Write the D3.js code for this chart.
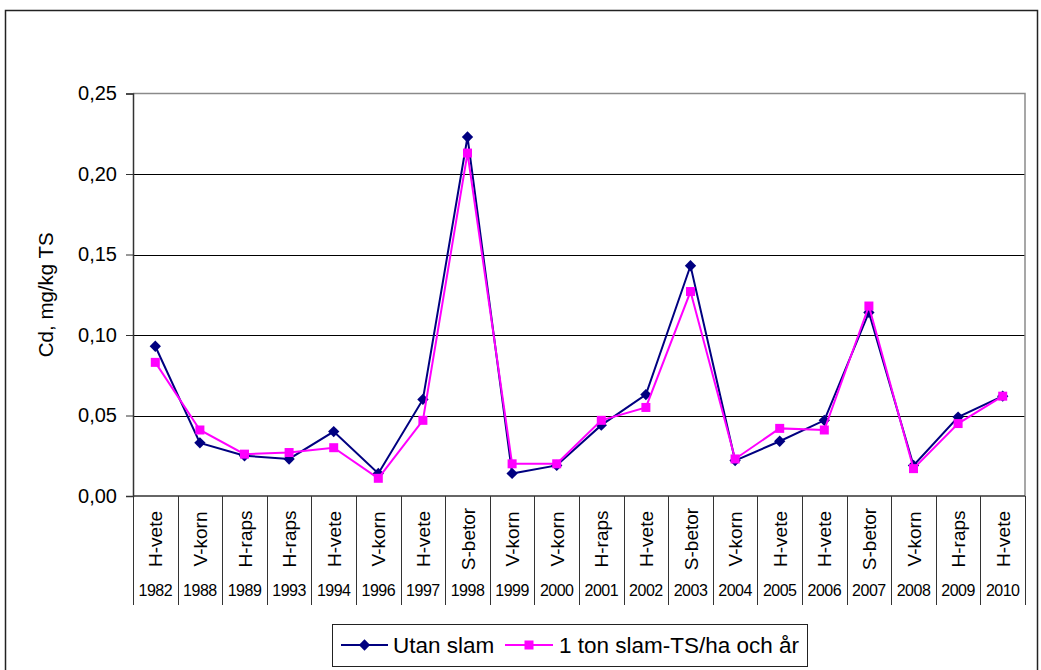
<!DOCTYPE html>
<html>
<head>
<meta charset="utf-8">
<script src="https://cdn.jsdelivr.net/npm/d3@7"></script>
<style>
  html, body { margin: 0; padding: 0; background: #fff; }
  svg { display: block; font-family: Arial, "Liberation Sans", sans-serif; }
</style>
</head>
<body>
<svg id="chart" width="1041" height="670"></svg>
<script>
// Cd-halt i skörden per år och gröda
const years = ["1982","1988","1989","1993","1994","1996","1997","1998","1999","2000",
               "2001","2002","2003","2004","2005","2006","2007","2008","2009","2010"];
const crops = ["H-vete","V-korn","H-raps","H-raps","H-vete","V-korn","H-vete","S-betor","V-korn","V-korn",
               "H-raps","H-vete","S-betor","V-korn","H-vete","H-vete","S-betor","V-korn","H-raps","H-vete"];
const utanSlam = [0.093,0.033,0.025,0.023,0.040,0.014,0.060,0.223,0.014,0.019,
                  0.044,0.063,0.143,0.022,0.034,0.047,0.114,0.019,0.049,0.062];
const medSlam  = [0.083,0.041,0.026,0.027,0.030,0.011,0.047,0.213,0.020,0.020,
                  0.047,0.055,0.127,0.023,0.042,0.041,0.118,0.017,0.045,0.062];
const yTicks = [0, 0.05, 0.10, 0.15, 0.20, 0.25];
const seriesNames = ["Utan slam", "1 ton slam-TS/ha och år"];

const svg = d3.select("#chart");
const fmt = v => d3.format(".2f")(v).replace(".", ",");

// outer chart frame
svg.append("rect")
  .attr("x", 5.5).attr("y", 10.5)
  .attr("width", 1032).attr("height", 680)
  .attr("fill", "none").attr("stroke", "#222").attr("stroke-width", 1.5);

const plotL = 133, plotR = 1025, plotT = 93.5, plotB = 496;
const x = d3.scaleBand().domain(years).range([plotL, plotR]);
const y = d3.scaleLinear().domain([0, 0.25]).range([plotB, plotT]);

// horizontal gridlines
svg.append("g")
  .selectAll("line")
  .data(yTicks.filter(t => t > 0 && t < 0.25))
  .join("line")
  .attr("x1", plotL).attr("x2", plotR)
  .attr("y1", d => Math.round(y(d)) + 0.5).attr("y2", d => Math.round(y(d)) + 0.5)
  .attr("stroke", "#000").attr("stroke-width", 1);

// plot area border (top/right)
svg.append("path")
  .attr("d", `M${plotL},${plotT}H${plotR}V${plotB}`)
  .attr("fill", "none").attr("stroke", "#8a8a8a").attr("stroke-width", 1.5);

// y axis
const yAxis = d3.axisLeft(y).tickValues(yTicks).tickFormat(fmt).tickSize(7).tickPadding(9);
const gy = svg.append("g").attr("transform", `translate(${plotL},0)`).call(yAxis);
gy.select(".domain").attr("stroke", "#333").attr("stroke-width", 1.5);
gy.selectAll(".tick line").attr("stroke", "#333");
gy.selectAll(".tick text").attr("font-size", 20).attr("fill", "#000")
  .attr("font-family", "Arial, 'Liberation Sans', sans-serif");

// y axis title
svg.append("text")
  .attr("transform", `translate(53,${(plotT + plotB) / 2}) rotate(-90)`)
  .attr("text-anchor", "middle")
  .attr("font-size", 20.5)
  .text("Cd, mg/kg TS");

// x axis baseline
svg.append("line")
  .attr("x1", plotL).attr("x2", plotR)
  .attr("y1", plotB).attr("y2", plotB)
  .attr("stroke", "#333").attr("stroke-width", 1.5);

// category dividers spanning both label rows
const bounds = years.map(d => x(d)).concat([plotR]);
svg.append("g")
  .selectAll("line")
  .data(bounds)
  .join("line")
  .attr("x1", d => Math.round(d) + 0.5).attr("x2", d => Math.round(d) + 0.5)
  .attr("y1", plotB).attr("y2", 605)
  .attr("stroke", "#333").attr("stroke-width", 1);

// crop labels (rotated)
svg.append("g")
  .selectAll("text")
  .data(crops)
  .join("text")
  .attr("transform", (d, i) => `translate(${x(years[i]) + x.bandwidth() / 2 + 7},539) rotate(-90)`)
  .attr("text-anchor", "middle")
  .attr("font-size", 19)
  .text(d => d);

// year labels
svg.append("g")
  .selectAll("text")
  .data(years)
  .join("text")
  .attr("x", d => x(d) + x.bandwidth() / 2)
  .attr("y", 596)
  .attr("text-anchor", "middle")
  .attr("font-size", 16)
  .attr("letter-spacing", -0.5)
  .text(d => d);

const cx = d => x(d) + x.bandwidth() / 2;
const line = d3.line().x((v, i) => cx(years[i])).y(v => y(v));

// series 1: Utan slam
svg.append("path").datum(utanSlam)
  .attr("d", line).attr("fill", "none")
  .attr("stroke", "#000080").attr("stroke-width", 2);
svg.append("g").selectAll("rect")
  .data(utanSlam)
  .join("rect")
  .attr("x", -4).attr("y", -4).attr("width", 8).attr("height", 8)
  .attr("transform", (v, i) => `translate(${cx(years[i])},${y(v)}) rotate(45)`)
  .attr("fill", "#000080");

// series 2: 1 ton slam-TS/ha och år
svg.append("path").datum(medSlam)
  .attr("d", line).attr("fill", "none")
  .attr("stroke", "#ff00ff").attr("stroke-width", 2);
svg.append("g").selectAll("rect")
  .data(medSlam)
  .join("rect")
  .attr("x", (v, i) => cx(years[i]) - 4.5)
  .attr("y", v => y(v) - 4.5)
  .attr("width", 9).attr("height", 9)
  .attr("fill", "#ff00ff");

// legend
const lg = svg.append("g");
lg.append("rect")
  .attr("x", 332.5).attr("y", 624.5).attr("width", 475).attr("height", 42)
  .attr("fill", "#fff").attr("stroke", "#222").attr("stroke-width", 1);
const ly = 645;
lg.append("line").attr("x1", 341).attr("x2", 388).attr("y1", ly).attr("y2", ly)
  .attr("stroke", "#000080").attr("stroke-width", 2);
lg.append("rect").attr("x", -4).attr("y", -4).attr("width", 8).attr("height", 8)
  .attr("transform", `translate(364.5,${ly}) rotate(45)`).attr("fill", "#000080");
lg.append("text").attr("x", 393).attr("y", ly + 8).attr("font-size", 22.5).text(seriesNames[0]);
lg.append("line").attr("x1", 505).attr("x2", 553).attr("y1", ly).attr("y2", ly)
  .attr("stroke", "#ff00ff").attr("stroke-width", 2);
lg.append("rect").attr("x", 524.5).attr("y", ly - 4.5).attr("width", 9).attr("height", 9)
  .attr("fill", "#ff00ff");
lg.append("text").attr("x", 559).attr("y", ly + 8).attr("font-size", 22.5).text(seriesNames[1]);
</script>
</body>
</html>
